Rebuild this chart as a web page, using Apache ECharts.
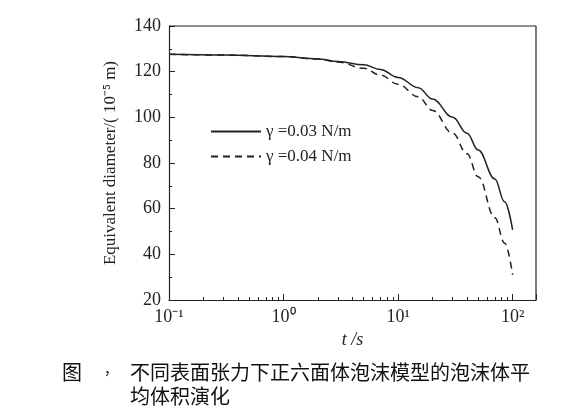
<!DOCTYPE html>
<html><head><meta charset="utf-8">
<script src="https://cdn.jsdelivr.net/npm/echarts@6/dist/echarts.min.js"></script>
<style>html,body{margin:0;background:#fff}#c{width:569px;height:409px}</style>
</head><body><div id="c"></div>
<script>
const tValues = [0.1, 0.3, 1, 2, 3, 5, 7, 10, 15, 20, 30, 40, 50, 70, 85, 100];
const gamma003 = [127.6, 127.3, 126.6, 125.6, 124.4, 123, 121, 117.5, 113, 108, 100, 93, 85.7, 73, 63, 50.7];
const gamma004 = [127.6, 127.3, 126.6, 125.5, 124.2, 121.5, 118.5, 114.5, 109, 103, 93, 84, 74, 56, 45, 31];
const yTicks = [20, 40, 60, 80, 100, 120, 140];
const seriesNames = ['γ=0.03 N/m', 'γ=0.04 N/m'];
const sup = {'-1':'⁻¹','0':'⁰','1':'¹','2':'²'};
const font = 'Liberation Serif';
const chart = echarts.init(document.getElementById('c'));
chart.setOption({
  animation:false,
  textStyle:{fontFamily:font},
  grid:{left:169,right:33,top:26,bottom:109},
  legend:{left:205,top:118,orient:'vertical',itemWidth:50,itemHeight:10,itemGap:8,
    data:seriesNames,itemStyle:{opacity:0},textStyle:{fontFamily:font,fontSize:17,color:'#222'},
    formatter:n=>n.replace('=',' =')},
  xAxis:{type:'log',min:0.1,max:160,logBase:10,
    name:'t /s',nameLocation:'middle',nameGap:28,nameTextStyle:{fontSize:18,fontStyle:'italic',color:'#222',fontFamily:font},
    axisLine:{lineStyle:{color:'#222',width:1.2}},
    axisTick:{inside:true,length:6,lineStyle:{color:'#222'}},
    minorTick:{show:true,splitNumber:9,length:3,lineStyle:{color:'#222'}},
    axisLabel:{color:'#222',fontSize:18,formatter:v=>{const e=Math.round(Math.log10(v));return '10'+(sup[String(e)]||'');},showMaxLabel:false},
    splitLine:{show:false}},
  yAxis:{type:'value',min:20,max:140,interval:20,
    name:'Equivalent diameter/( 10⁻⁵ m)',nameLocation:'middle',nameGap:50,nameTextStyle:{fontSize:17,color:'#222',fontFamily:font},
    axisLine:{show:true,lineStyle:{color:'#222',width:1.2}},
    axisTick:{inside:true,length:6,lineStyle:{color:'#222'}},
    minorTick:{show:true,splitNumber:2,length:3,lineStyle:{color:'#222'}},
    axisLabel:{color:'#222',fontSize:18,formatter:v=>yTicks.includes(v)?String(v):''},
    splitLine:{show:false}},
  series:[
    {name:seriesNames[0],type:'line',smooth:0.4,smoothMonotone:'x',showSymbol:false,symbol:'none',
     data:tValues.map((t,i)=>[t,gamma003[i]]),lineStyle:{color:'#222',width:1.5},itemStyle:{color:'#222'}},
    {name:seriesNames[1],type:'line',smooth:0.4,smoothMonotone:'x',showSymbol:false,symbol:'none',
     data:tValues.map((t,i)=>[t,gamma004[i]]),lineStyle:{color:'#222',width:1.5,type:[7,5]},itemStyle:{color:'#222'}}
  ],
  graphic:[
    {type:'line',shape:{x1:169,y1:26,x2:536,y2:26},style:{stroke:'#222',lineWidth:1.2}},
    {type:'line',shape:{x1:536,y1:26,x2:536,y2:300},style:{stroke:'#222',lineWidth:1.2}},
    {type:'text',left:62,top:362,style:{text:'图',font:'20px "Noto Sans CJK SC"',fill:'#111'}},
    {type:'text',left:104,top:362,style:{text:'，',font:'14px "Noto Sans CJK SC"',fill:'#111'}},
    {type:'text',left:130,top:362,style:{text:'不同表面张力下正六面体泡沫模型的泡沫体平',font:'20px "Noto Sans CJK SC"',fill:'#111'}},
    {type:'text',left:130,top:386,style:{text:'均体积演化',font:'20px "Noto Sans CJK SC"',fill:'#111'}}
  ]
});
</script></body></html>
